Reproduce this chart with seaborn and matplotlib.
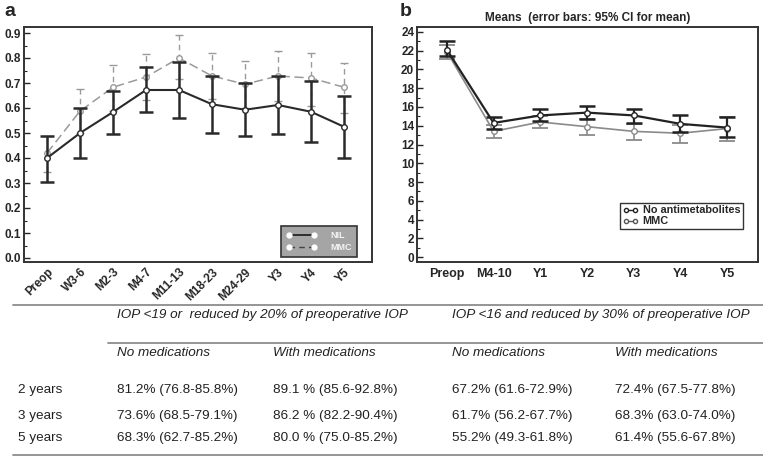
import numpy as np
import pandas as pd
import matplotlib.pyplot as plt
from matplotlib.lines import Line2D
from matplotlib.ticker import MultipleLocator
import seaborn as sns

# panel a: proportion over follow-up
times_a = ["Preop", "W3-6", "M2-3", "M4-7", "M11-13", "M18-23", "M24-29", "Y3", "Y4", "Y5"]
nil_mean = [0.40, 0.50, 0.584, 0.672, 0.672, 0.615, 0.593, 0.612, 0.585, 0.525]
nil_lo = [0.304, 0.40, 0.495, 0.583, 0.56, 0.50, 0.488, 0.495, 0.463, 0.40]
nil_hi = [0.488, 0.60, 0.67, 0.766, 0.785, 0.73, 0.70, 0.73, 0.707, 0.648]
mmc_mean = [0.42, 0.588, 0.683, 0.724, 0.80, 0.728, 0.695, 0.728, 0.72, 0.683]
mmc_lo = [0.345, 0.50, 0.59, 0.632, 0.715, 0.635, 0.60, 0.63, 0.61, 0.58]
mmc_hi = [0.49, 0.675, 0.772, 0.815, 0.892, 0.82, 0.788, 0.828, 0.82, 0.78]

# panel b: IOP means with 95% CI
times_b = ["Preop", "M4-10", "Y1", "Y2", "Y3", "Y4", "Y5"]
noanti_mean = [22.1, 14.3, 15.1, 15.4, 15.1, 14.2, 13.8]
noanti_lo = [21.4, 13.7, 14.5, 14.7, 14.3, 13.3, 12.8]
noanti_hi = [23.0, 14.9, 15.8, 16.1, 15.8, 15.1, 14.9]
mmcb_mean = [21.9, 13.4, 14.4, 13.9, 13.4, 13.2, 13.7]
mmcb_lo = [21.1, 12.7, 13.8, 13.0, 12.5, 12.2, 12.4]
mmcb_hi = [22.6, 14.1, 15.0, 14.7, 14.2, 14.1, 14.9]

# success table
crit_labels = ["IOP <19 or  reduced by 20% of preoperative IOP",
               "IOP <16 and reduced by 30% of preoperative IOP"]
col_labels = ["No medications", "With medications", "No medications", "With medications"]
row_labels = ["2 years", "3 years", "5 years"]
cells = [
    ["81.2% (76.8-85.8%)", "89.1 % (85.6-92.8%)", "67.2% (61.6-72.9%)", "72.4% (67.5-77.8%)"],
    ["73.6% (68.5-79.1%)", "86.2 % (82.2-90.4%)", "61.7% (56.2-67.7%)", "68.3% (63.0-74.0%)"],
    ["68.3% (62.7-85.2%)", "80.0 % (75.0-85.2%)", "55.2% (49.3-61.8%)", "61.4% (55.6-67.8%)"],
]

sns.set_style("white")
plt.rcParams['font.family'] = ['Liberation Sans', 'DejaVu Sans']

W, H = 763, 457
fig = plt.figure(figsize=(W / 100, H / 100), dpi=100)

def fx(px):
    return px / W

def fy(py):
    return 1 - py / H

ax1 = fig.add_axes([fx(24), fy(262), fx(372 - 24), (262 - 27) / H])
ax2 = fig.add_axes([fx(417), fy(262), fx(758 - 417), (262 - 27) / H])


def draw_series(ax, pos, mean, lo, hi, color, lw, ls, capsize, capthick, elw, z):
    mean = np.array(mean)
    err = [mean - np.array(lo), np.array(hi) - mean]
    eb = ax.errorbar(pos, mean, yerr=err, fmt='none', ecolor=color, elinewidth=elw,
                     capsize=capsize, capthick=capthick, zorder=z)
    if ls != '-':
        eb[2][0].set_linestyle((0, (4, 3)))
    sns.lineplot(x=pos, y=mean, ax=ax, color=color, lw=lw, linestyle=ls,
                 marker='o', markersize=4, markerfacecolor='white',
                 markeredgecolor=color, markeredgewidth=1, zorder=z + 1)


# ---- panel a
pos_a = np.arange(len(times_a))
draw_series(ax1, pos_a, mmc_mean, mmc_lo, mmc_hi, '#9a9a9a', 1.1, (0, (6, 3)), 3, 1.0, 1.0, 2)
draw_series(ax1, pos_a, nil_mean, nil_lo, nil_hi, '#2a2a2a', 1.5, '-', 5, 1.8, 1.8, 4)
ax1.set_xlim(-0.7, 9.85)
ax1.set_ylim(-0.016, 0.924)
ax1.yaxis.set_major_locator(MultipleLocator(0.1))
ax1.yaxis.set_minor_locator(MultipleLocator(0.05))
ax1.set_yticklabels([f"{v:.1f}" for v in ax1.get_yticks()])
ax1.set_xticks(pos_a)
ax1.set_xticklabels(times_a, rotation=45, ha='right', rotation_mode='anchor',
                    fontsize=8.5, fontweight='bold')
for lab in ax1.get_yticklabels():
    lab.set_fontsize(8.5)
    lab.set_fontweight('bold')
ax1.tick_params(axis='y', which='major', direction='in', length=4, width=1, left=True, pad=2)
ax1.tick_params(axis='y', which='minor', direction='in', length=2.5, width=0.8, left=True)
ax1.tick_params(axis='x', length=0, pad=3)

leg_a = [Line2D([], [], color='#1a1a1a', lw=1.2, marker='o', ms=3.5, mfc='white', mec='white'),
         Line2D([], [], color='#444444', lw=1.0, ls=(0, (4, 3)), marker='o', ms=3.5, mfc='white', mec='white')]
la = ax1.legend(leg_a, ["NIL", "MMC"], loc='lower right', bbox_to_anchor=(0.957, 0.021),
                fontsize=6.5, frameon=True, fancybox=False, handlelength=3.4, numpoints=2,
                labelspacing=0.35, borderpad=0.55, handletextpad=1.5, borderaxespad=0)
la.get_frame().set_facecolor('#a5a5a5')
la.get_frame().set_edgecolor('#333333')
la.get_frame().set_alpha(1)
la.get_frame().set_linewidth(1.2)
for t in la.get_texts():
    t.set_color('#f4f4f4')
    t.set_fontweight('bold')

# ---- panel b
pos_b = np.arange(len(times_b))
draw_series(ax2, pos_b, mmcb_mean, mmcb_lo, mmcb_hi, '#8a8a8a', 1.2, '-', 6, 1.3, 1.2, 2)
draw_series(ax2, pos_b, noanti_mean, noanti_lo, noanti_hi, '#222222', 1.6, '-', 6, 1.8, 1.6, 4)
ax2.set_xlim(-0.64, 6.66)
ax2.set_ylim(-0.53, 24.53)
ax2.yaxis.set_major_locator(MultipleLocator(2))
ax2.yaxis.set_minor_locator(MultipleLocator(1))
ax2.set_xticks(pos_b)
ax2.set_xticklabels(times_b, fontsize=9, fontweight='bold')
for lab in ax2.get_yticklabels():
    lab.set_fontsize(8.5)
    lab.set_fontweight('bold')
ax2.tick_params(axis='y', which='major', direction='in', length=4, width=1, left=True, pad=2)
ax2.tick_params(axis='y', which='minor', direction='in', length=2.5, width=0.8, left=True)
ax2.tick_params(axis='x', length=0, pad=4)
ax2.set_title("Means  (error bars: 95% CI for mean)", fontsize=8.5, fontweight='bold', pad=4)

leg_b = [Line2D([], [], color='#222222', lw=1, marker='o', ms=3, mfc='white', mec='#222222'),
         Line2D([], [], color='#555555', lw=1, marker='o', ms=3, mfc='white', mec='#555555')]
lb = ax2.legend(leg_b, ["No antimetabolites", "MMC"], loc='lower right',
                bbox_to_anchor=(0.956, 0.14), frameon=True, fancybox=False, numpoints=2,
                handlelength=1.4, labelspacing=0.1, borderpad=0.25, handletextpad=0.4,
                borderaxespad=0, prop={'weight': 'bold', 'size': 7.8})
lb.get_frame().set_edgecolor('#333333')
lb.get_frame().set_linewidth(1)
lb.get_frame().set_alpha(1)

for ax in (ax1, ax2):
    for s in ax.spines.values():
        s.set_visible(True)
        s.set_color('#333333')
        s.set_linewidth(1.4)

fig.text(fx(4), fy(11), "a", fontsize=14, fontweight='bold', va='center')
fig.text(fx(400), fy(11), "b", fontsize=14, fontweight='bold', va='center')

# ---- table below
def hline(y, x0, x1):
    fig.add_artist(Line2D([fx(x0), fx(x1)], [fy(y), fy(y)], color='#8c8c8c', lw=1.3))

hline(305, 13, 763)
hline(343, 108, 763)
hline(455, 13, 763)

col_x = [117, 273, 452, 615]
tsize = 9.7
fig.text(fx(col_x[0]), fy(315), crit_labels[0], fontsize=tsize, style='italic', va='center', color='#222222')
fig.text(fx(col_x[2]), fy(315), crit_labels[1], fontsize=tsize, style='italic', va='center', color='#222222')
for x, lab in zip(col_x, col_labels):
    fig.text(fx(x), fy(353), lab, fontsize=tsize, style='italic', va='center', color='#222222')
for ry, rlab, row in zip([390, 416, 438], row_labels, cells):
    fig.text(fx(18), fy(ry), rlab, fontsize=tsize, va='center', color='#222222')
    for x, val in zip(col_x, row):
        fig.text(fx(x), fy(ry), val, fontsize=tsize, va='center', color='#222222')

fig.savefig('out.png', dpi=100)
